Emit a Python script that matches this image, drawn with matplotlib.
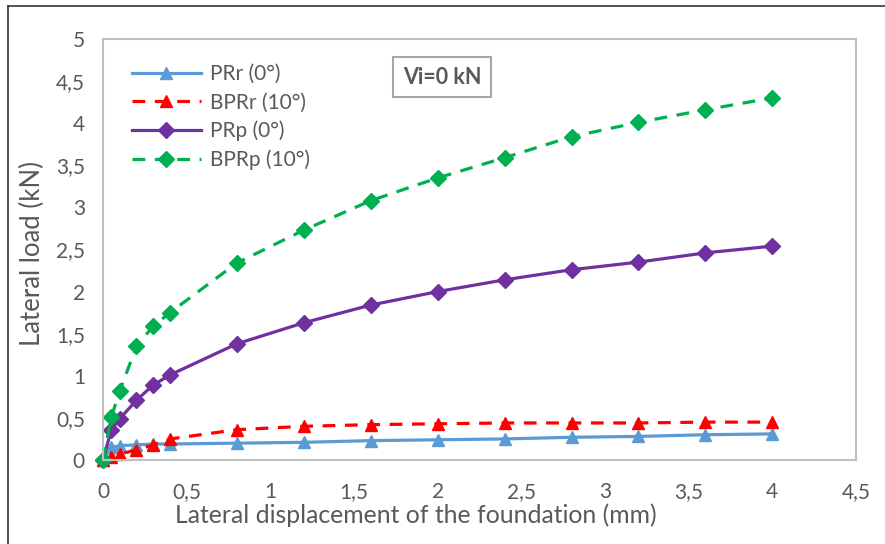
import matplotlib
matplotlib.use("Agg")
import matplotlib.pyplot as plt
from matplotlib.lines import Line2D
from matplotlib.ticker import FuncFormatter

plt.rcParams['font.family'] = ['Lato', 'DejaVu Sans']

disp = [0, 0.05, 0.1, 0.2, 0.3, 0.4, 0.8, 1.2, 1.6, 2.0, 2.4, 2.8, 3.2, 3.6, 4.0]
prr = [0, 0.15, 0.17, 0.18, 0.19, 0.19, 0.20, 0.21, 0.23, 0.24, 0.25, 0.27, 0.28, 0.30, 0.31]
bprr = [0, 0.04, 0.07, 0.12, 0.18, 0.25, 0.36, 0.40, 0.42, 0.43, 0.44, 0.44, 0.44, 0.45, 0.45]
prp = [0, 0.36, 0.49, 0.71, 0.89, 1.01, 1.38, 1.63, 1.84, 2.00, 2.14, 2.26, 2.35, 2.46, 2.54]
bprp = [0, 0.51, 0.82, 1.35, 1.59, 1.75, 2.34, 2.73, 3.08, 3.35, 3.59, 3.84, 4.01, 4.16, 4.30]

labels = ["PRr (0°)", "BPRr (10°)", "PRp (0°)", "BPRp (10°)"]
xticks = [0, 0.5, 1, 1.5, 2, 2.5, 3, 3.5, 4, 4.5]
yticks = [0, 0.5, 1, 1.5, 2, 2.5, 3, 3.5, 4, 4.5, 5]

fig = plt.figure(figsize=(8.85, 5.44), dpi=100)
ax = fig.add_axes([103/885, 1-460/544, (856-103)/885, (460-39)/544])

lw = 2.3
dash = (0, (4, 3))
ax.plot(disp, prr, color='#5B9BD5', lw=lw, marker='^', ms=9, label=labels[0], clip_on=False)
ax.plot(disp, bprr, color='#FF0000', lw=lw, ls=dash, marker='^', ms=9, label=labels[1], clip_on=False)
ax.plot(disp, prp, color='#7030A0', lw=lw, marker='D', ms=8, label=labels[2], clip_on=False)
ax.plot(disp, bprp, color='#00B050', lw=lw, ls=dash, marker='D', ms=8, label=labels[3], clip_on=False)

ax.set_xlim(0, 4.5)
ax.set_ylim(0, 5)
ax.set_xticks(xticks)
ax.set_yticks(yticks)
fmt = FuncFormatter(lambda v, p: ('%g' % v).replace('.', ','))
ax.xaxis.set_major_formatter(fmt)
ax.yaxis.set_major_formatter(fmt)
ax.tick_params(length=0, labelsize=15, colors='#595959')
ax.tick_params(axis='x', pad=16)
ax.tick_params(axis='y', pad=13)
for s in ax.spines.values():
    s.set_color('#BFBFBF')
    s.set_linewidth(1.5)

fig.text(416/885, 1-523/544, "Lateral displacement of the foundation (mm)", fontsize=17.8,
         color='#595959', ha='center', va='baseline')
fig.text(32/885, 1-254/544, "Lateral load (kN)", fontsize=18.5, color='#595959',
         ha='center', va='center', rotation=90)

leg = ax.legend(loc='upper left', bbox_to_anchor=(0.013, 0.985), frameon=False,
                fontsize=15, handlelength=3.35, labelspacing=0.4, handletextpad=0.4,
                labelcolor='#595959')

ax.text(442/885, 1-77/544, "Vi=0 kN", transform=fig.transFigure, ha='center', va='center',
        fontsize=15.5, fontweight='bold', color='#595959',
        bbox=dict(boxstyle='square,pad=0.45', fc='white', ec='#A6A6A6', lw=1.5))

fig.add_artist(Line2D([8/885, 8/885], [0, 1-6/544], transform=fig.transFigure, color='#333333', lw=1.2))
fig.add_artist(Line2D([8/885, 1], [1-6/544, 1-6/544], transform=fig.transFigure, color='#333333', lw=1.2))

fig.savefig("out.png", dpi=100)
